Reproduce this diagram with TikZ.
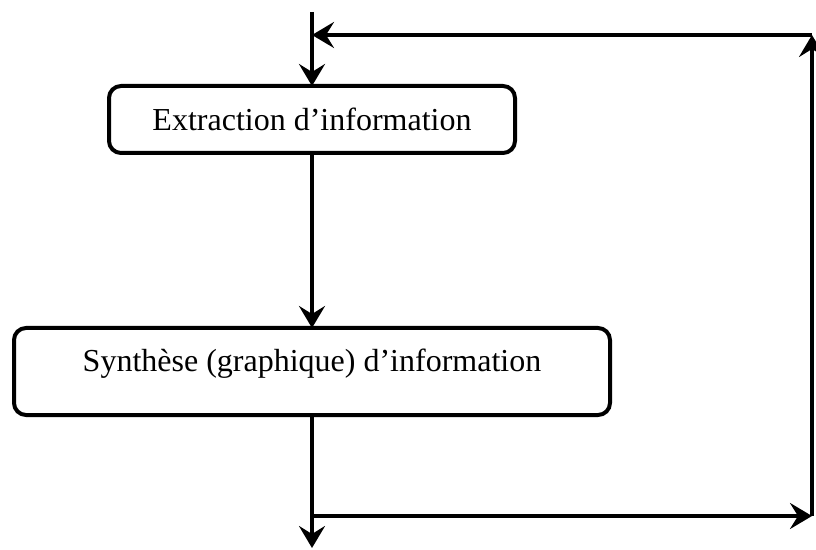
\documentclass[tikz,border=0pt]{standalone}
\usepackage{fontspec}
\setmainfont{Liberation Serif}
\usetikzlibrary{positioning, arrows.meta, calc}

\begin{document}
\begin{tikzpicture}[
    x=1pt, y=1pt,
    line width=4pt,          % thick lines everywhere
    >={Stealth[length=22pt, width=26pt, inset=8pt]},
    font=\fontsize{32}{38}\selectfont,
    info_box/.style={draw, rounded corners=12pt, align=center, inner sep=0pt, outer sep=0pt}
]
    \useasboundingbox (0,0) rectangle (816,549);

    % --- 1. the two boxes ---
    \node [info_box, minimum width=406pt, minimum height=67pt] (extract) at (312, 429.5) {Extraction d’information};
    % text sits in the upper part of the box
    \node [info_box, minimum width=596pt, minimum height=87pt,
           text height=24pt, text depth=24pt, below=175pt of extract] (synth) {Synthèse (graphique) d’information};

    % --- 2. main flow ---
    \coordinate (entry) at (312, 537);
    \coordinate (exit) at (312, 1);
    \draw [->] (entry) -- (extract);
    \draw [->] (extract) -- (synth);
    \draw [->] (synth) -- (exit);

    % --- 3. feedback loop ---
    \coordinate (split) at (312, 33);
    \coordinate (corner_br) at (812, 33);
    \coordinate (corner_tr) at (812, 514);
    \coordinate (join) at (312, 514);
    \draw [->] (split) -- (corner_br);
    \draw [->] (corner_br) -- (corner_tr);
    \draw [->] (corner_tr) -- (join);

\end{tikzpicture}
\end{document}
